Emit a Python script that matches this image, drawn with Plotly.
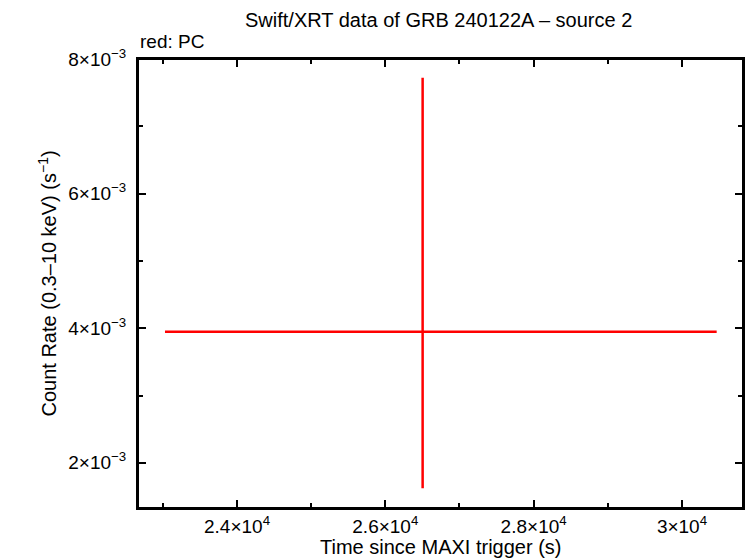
import plotly.graph_objects as go

# Data
time = [26503]
time_err_plus = [3965]
time_err_minus = [3474]
rate = [3.95e-3]
rate_err_plus = [3.775e-3]
rate_err_minus = [2.33e-3]

x_range = [22665, 30823]
y_range = [1.328e-3, 8.003e-3]
x_tickvals = [24000, 26000, 28000, 30000]
x_ticktext = ["2.4×10<sup>4</sup>", "2.6×10<sup>4</sup>", "2.8×10<sup>4</sup>", "3×10<sup>4</sup>"]
x_minor = [23000, 25000, 27000, 29000]
y_tickvals = [2e-3, 4e-3, 6e-3, 8e-3]
y_ticktext = ["2×10<sup>−3</sup>", "4×10<sup>−3</sup>", "6×10<sup>−3</sup>", "8×10<sup>−3</sup>"]
y_minor = [3e-3, 5e-3, 7e-3]

FONT = "Liberation Sans, Arial, Helvetica, sans-serif"

fig = go.Figure()
fig.add_trace(go.Scatter(
    x=time, y=rate, mode="markers",
    marker=dict(size=1, color="red"),
    error_x=dict(type="data", symmetric=False, array=time_err_plus, arrayminus=time_err_minus,
                 color="red", thickness=2.5, width=0),
    error_y=dict(type="data", symmetric=False, array=rate_err_plus, arrayminus=rate_err_minus,
                 color="red", thickness=2.5, width=0),
    showlegend=False, hoverinfo="skip",
))
# empty trace to anchor the mirrored (top/right) axes
fig.add_trace(go.Scatter(x=[None], y=[None], xaxis="x2", yaxis="y2", showlegend=False, hoverinfo="skip"))

common = dict(
    showline=True, linewidth=2, linecolor="black", mirror=False,
    ticks="inside", ticklen=8, tickwidth=2, tickcolor="black",
    showgrid=False, zeroline=False, automargin=False,
    tickfont=dict(family=FONT, size=19, color="black"),
)
xminor = dict(tickvals=x_minor, ticks="inside", ticklen=5, tickwidth=2, tickcolor="black")
yminor = dict(tickvals=y_minor, ticks="inside", ticklen=5, tickwidth=2, tickcolor="black")

fig.update_layout(
    width=746, height=558,
    margin=dict(l=138, r=3, t=59, b=50),
    paper_bgcolor="white", plot_bgcolor="white",
    xaxis=dict(**common, range=x_range, tickmode="array", tickvals=x_tickvals, ticktext=x_ticktext,
               minor=xminor, ticklabelstandoff=0),
    yaxis=dict(**common, range=y_range, tickmode="array", tickvals=y_tickvals, ticktext=y_ticktext,
               minor=yminor, ticklabelstandoff=6),
    xaxis2=dict(**common, range=x_range, tickmode="array", tickvals=x_tickvals, showticklabels=False,
                minor=xminor, overlaying="x", side="top", anchor="y2"),
    yaxis2=dict(**common, range=y_range, tickmode="array", tickvals=y_tickvals, showticklabels=False,
                minor=yminor, overlaying="y", side="right", anchor="x2"),
    shapes=[dict(type="rect", xref="paper", yref="paper", x0=0, x1=1, y0=0, y1=1,
                 line=dict(color="black", width=2), fillcolor="rgba(0,0,0,0)", layer="above")],
    annotations=[
        dict(text="Swift/XRT data of GRB 240122A – source 2", xref="paper", yref="paper",
             x=0.497, y=1.0, yshift=39, xanchor="center", yanchor="middle", showarrow=False,
             font=dict(family=FONT, size=20, color="black")),
        dict(text="red: PC", xref="paper", yref="paper",
             x=0.0, y=1.0, yshift=18, xanchor="left", yanchor="middle", showarrow=False,
             font=dict(family=FONT, size=19, color="black")),
        dict(text="Time since MAXI trigger (s)", xref="paper", yref="paper",
             x=0.5, y=0.0, yshift=-39, xanchor="center", yanchor="middle", showarrow=False,
             font=dict(family=FONT, size=20, color="black")),
        dict(text="Count Rate (0.3–10 keV) (s<sup>−1</sup>)", xref="paper", yref="paper",
             x=0.0, y=0.5, xshift=-91, xanchor="center", yanchor="middle", showarrow=False,
             textangle=-90, font=dict(family=FONT, size=20, color="black")),
    ],
)

fig.write_html("out.html", config={"displayModeBar": False},
               post_script="document.body.style.margin='0';document.body.style.padding='0';")
